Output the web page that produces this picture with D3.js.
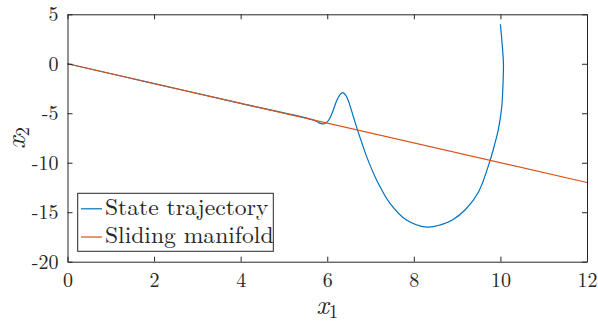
<!DOCTYPE html>
<html>
<head>
<meta charset="utf-8">
<script src="https://cdn.jsdelivr.net/npm/d3@7"></script>
<style>
  html, body { margin: 0; padding: 0; background: #fff; }
  svg { display: block; }
</style>
</head>
<body>
<svg id="chart" width="598" height="322"></svg>
<script>
// Phase-plane trajectory (x1, x2) of the closed-loop system
const trajX = [10.00, 10.04, 10.07, 10.06, 10.03, 9.95, 9.87, 9.76, 9.50, 9.20, 8.90, 8.60, 8.30,
               7.83, 7.45, 7.14, 6.91, 6.80, 6.70, 6.60, 6.50, 6.43, 6.36, 6.30, 6.22, 6.14,
               6.06, 5.98, 5.89, 5.80, 5.72, 4.00, 2.00, 0.00];
const trajY = [4.00, 2.00, 0.00, -2.00, -4.40, -6.69, -8.10, -9.79, -12.90, -14.70, -15.75, -16.30, -16.50,
               -15.78, -14.10, -11.74, -9.38, -8.00, -6.70, -5.30, -3.90, -3.20, -2.92, -3.10, -3.70, -4.67,
               -5.50, -5.95, -6.08, -5.95, -5.74, -4.00, -2.00, 0.00];

// Sliding manifold s = x1 + x2 = 0
const manifoldX = [0, 12];
const manifoldY = [0, -12];

const xTicks = [0, 2, 4, 6, 8, 10, 12];
const yTicks = [5, 0, -5, -10, -15, -20];
const legendLabels = ["State trajectory", "Sliding manifold"];
const colors = ["#0072BD", "#D95319"];

const svg = d3.select("#chart");
const pLeft = 67.5, pRight = 587, pTop = 14.3, pBottom = 261.7;

const x = d3.scaleLinear().domain([0, 12]).range([pLeft, pRight]);
const y = d3.scaleLinear().domain([-20, 5]).range([pBottom, pTop]);

const axisColor = "#262626";
const tickLen = 5;
const fontFam = "Latin Modern Roman";

// data lines
const traj = trajX.map((v, i) => [v, trajY[i]]);
const mani = manifoldX.map((v, i) => [v, manifoldY[i]]);

svg.append("path")
  .attr("fill", "none")
  .attr("stroke", colors[0])
  .attr("stroke-width", 1.2)
  .attr("d", d3.line().x(d => x(d[0])).y(d => y(d[1])).curve(d3.curveCatmullRom.alpha(0.5))(traj));

svg.append("path")
  .attr("fill", "none")
  .attr("stroke", colors[1])
  .attr("stroke-width", 1.2)
  .attr("d", d3.line().x(d => x(d[0])).y(d => y(d[1]))(mani));

// axes box with inward ticks on all four sides
const axB = d3.axisBottom(x).tickValues(xTicks).tickSizeInner(-tickLen).tickSizeOuter(0).tickPadding(11).tickFormat(d3.format("d"));
const axT = d3.axisTop(x).tickValues(xTicks).tickSizeInner(-tickLen).tickSizeOuter(0).tickFormat("");
const axL = d3.axisLeft(y).tickValues(yTicks).tickSizeInner(-tickLen).tickSizeOuter(0).tickPadding(9).tickFormat(d => d < 0 ? "-" + Math.abs(d) : String(d));
const axR = d3.axisRight(y).tickValues(yTicks).tickSizeInner(-tickLen).tickSizeOuter(0).tickFormat("");

function style(g) {
  g.attr("font-family", fontFam).attr("font-size", 20);
  g.select(".domain").attr("stroke", axisColor).attr("stroke-width", 1);
  g.selectAll(".tick line").attr("stroke", axisColor).attr("stroke-width", 1);
  g.selectAll(".tick text")
    .attr("font-family", fontFam)
    .attr("font-size", 20)
    .attr("fill", axisColor);
}

svg.append("g").attr("transform", `translate(0,${pBottom})`).call(axB).call(style);
svg.append("g").attr("transform", `translate(0,${pTop})`).call(axT).call(style);
svg.append("g").attr("transform", `translate(${pLeft},0)`).call(axL).call(style);
svg.append("g").attr("transform", `translate(${pRight},0)`).call(axR).call(style);

// axis labels
const xl = svg.append("text")
  .attr("x", (pLeft + pRight) / 2)
  .attr("y", 314)
  .attr("text-anchor", "middle")
  .attr("font-family", fontFam)
  .attr("fill", axisColor)
  .attr("font-size", 27);
xl.append("tspan").attr("font-style", "italic").text("x");
xl.append("tspan").attr("font-size", 19).attr("dy", 4).text("1");

const yl = svg.append("text")
  .attr("transform", `translate(25,${(pTop + pBottom) / 2}) rotate(-90)`)
  .attr("text-anchor", "middle")
  .attr("font-family", fontFam)
  .attr("fill", axisColor)
  .attr("font-size", 27);
yl.append("tspan").attr("font-style", "italic").text("x");
yl.append("tspan").attr("font-size", 19).attr("dy", 4).text("2");

// legend
const lg = svg.append("g");
lg.append("rect")
  .attr("x", 77.7).attr("y", 193.3)
  .attr("width", 195.6).attr("height", 58)
  .attr("fill", "#fff")
  .attr("stroke", axisColor)
  .attr("stroke-width", 1);

legendLabels.forEach((lab, i) => {
  const cy = 208.8 + i * 28.2;
  lg.append("line")
    .attr("x1", 81).attr("x2", 102)
    .attr("y1", cy).attr("y2", cy)
    .attr("stroke", colors[i])
    .attr("stroke-width", 1.2);
  lg.append("text")
    .attr("x", 105)
    .attr("y", cy + 5.8)
    .attr("font-family", fontFam)
    .attr("fill", axisColor)
    .attr("font-size", 23.6)
    .text(lab);
});
</script>
</body>
</html>
